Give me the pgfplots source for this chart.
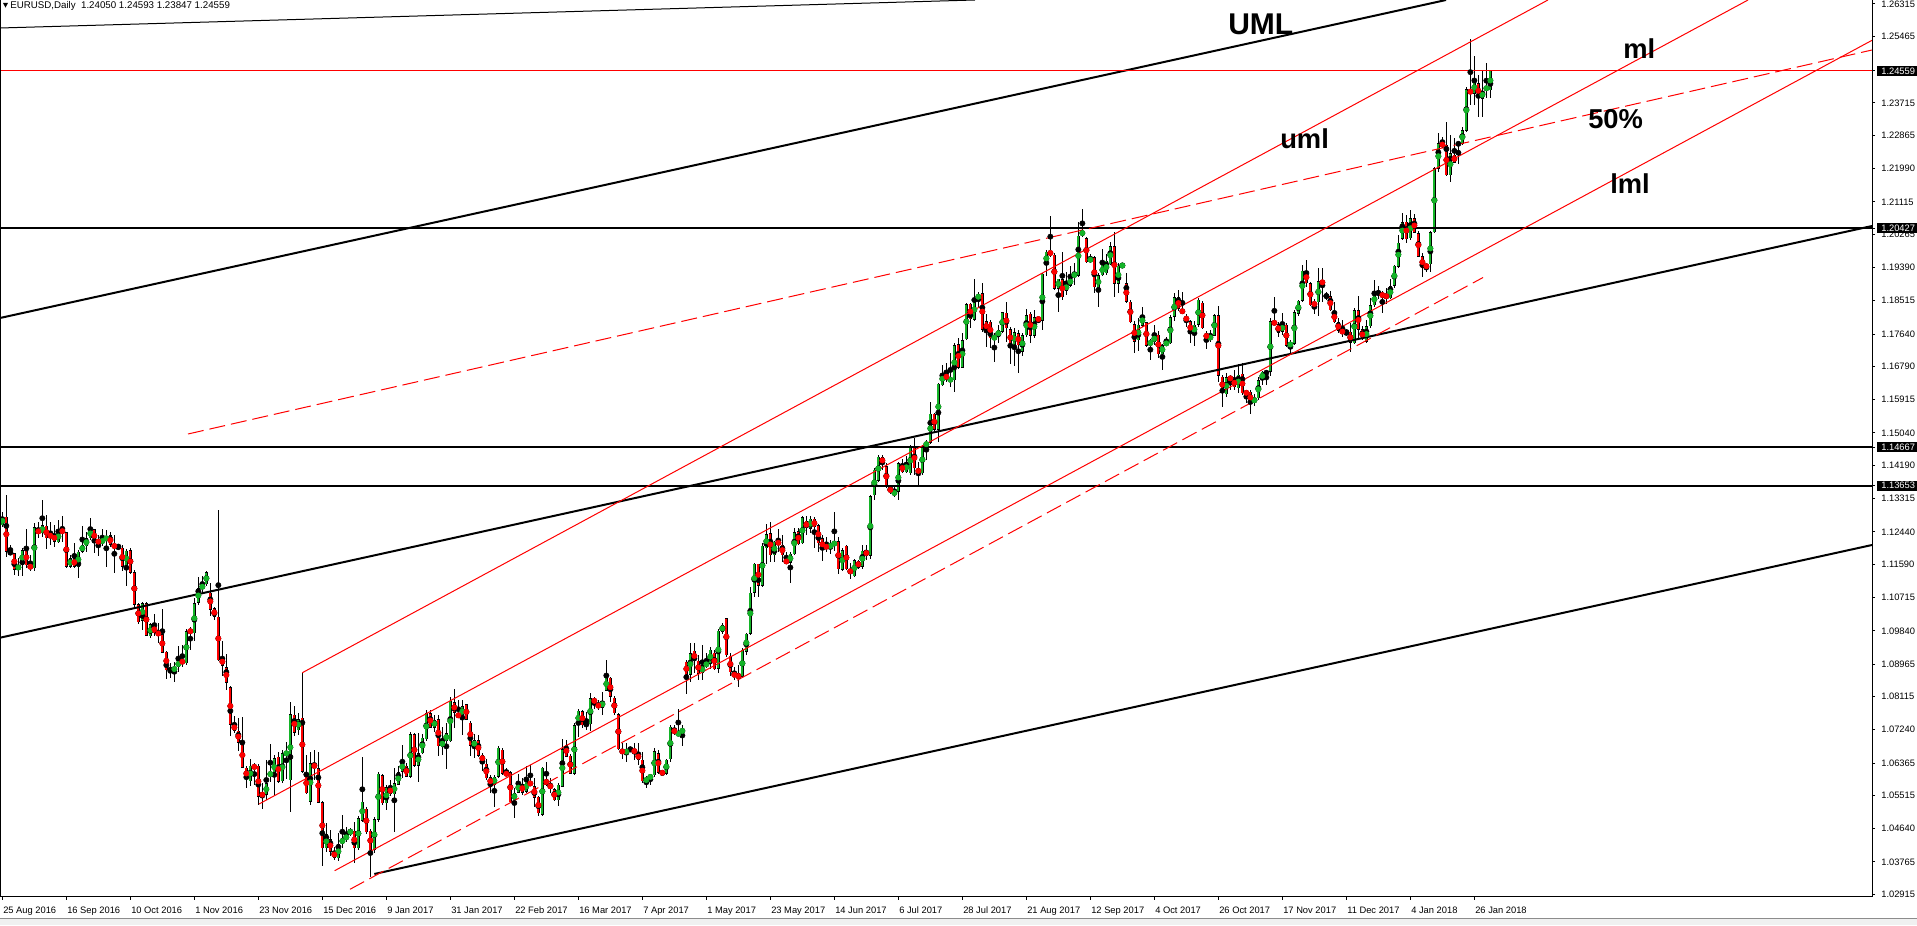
\documentclass[border=0pt]{standalone}
\usepackage{fontspec}
\setmainfont{Liberation Sans}
\usepackage{pgfplots}
\usepackage{pgfplotstable}
\pgfplotsset{compat=1.18}
\definecolor{bull}{RGB}{20,180,40}
\definecolor{bear}{RGB}{255,0,0}

% EURUSD daily candles, bar index i from 25 Aug 2016
\pgfplotstableread{
i o h l c
0 1.1262 1.1297 1.1258 1.1284
1 1.1284 1.1341 1.1179 1.1192
2 1.1190 1.1210 1.1183 1.1189
3 1.1188 1.1188 1.1131 1.1144
4 1.1144 1.1175 1.1127 1.1157
5 1.1157 1.1201 1.1127 1.1196
6 1.1198 1.1253 1.1148 1.1157
7 1.1157 1.1183 1.1140 1.1148
8 1.1148 1.1267 1.1140 1.1256
9 1.1253 1.1271 1.1227 1.1238
10 1.1240 1.1328 1.1232 1.1262
11 1.1260 1.1288 1.1198 1.1227
12 1.1236 1.1271 1.1210 1.1232
13 1.1239 1.1262 1.1205 1.1218
14 1.1217 1.1276 1.1214 1.1247
15 1.1249 1.1286 1.1218 1.1243
16 1.1243 1.1245 1.1148 1.1153
17 1.1153 1.1183 1.1148 1.1175
18 1.1175 1.1214 1.1148 1.1153
19 1.1151 1.1196 1.1124 1.1192
20 1.1192 1.1260 1.1188 1.1210
21 1.1207 1.1245 1.1192 1.1227
22 1.1227 1.1280 1.1223 1.1253
23 1.1251 1.1253 1.1189 1.1217
24 1.1220 1.1236 1.1181 1.1217
25 1.1216 1.1251 1.1207 1.1224
26 1.1221 1.1249 1.1153 1.1233
27 1.1235 1.1245 1.1205 1.1210
28 1.1211 1.1236 1.1137 1.1203
29 1.1205 1.1210 1.1201 1.1203
30 1.1203 1.1210 1.1140 1.1153
31 1.1153 1.1198 1.1102 1.1195
32 1.1196 1.1201 1.1133 1.1137
33 1.1138 1.1144 1.1047 1.1052
34 1.1054 1.1058 1.1002 1.1006
35 1.1011 1.1061 1.0986 1.1056
36 1.1056 1.1059 1.0970 1.0971
37 1.0970 1.1004 1.0964 1.1001
38 1.0998 1.1027 1.0971 1.0978
39 1.0979 1.1004 1.0953 1.0975
40 1.0975 1.1041 1.0925 1.0927
41 1.0929 1.0931 1.0857 1.0881
42 1.0883 1.0899 1.0859 1.0881
43 1.0879 1.0903 1.0850 1.0888
44 1.0888 1.0945 1.0877 1.0906
45 1.0909 1.0947 1.0888 1.0897
46 1.0899 1.0988 1.0894 1.0983
47 1.0988 1.0993 1.0934 1.0978
48 1.0978 1.1069 1.0958 1.1056
49 1.1058 1.1125 1.1051 1.1096
50 1.1094 1.1127 1.1087 1.1106
51 1.1106 1.1142 1.1103 1.1138
52 1.1084 1.1109 1.1024 1.1039
53 1.1043 1.1047 1.1013 1.1021
54 1.1021 1.1302 1.0906 1.0907
55 1.0914 1.0956 1.0866 1.0892
56 1.0888 1.0922 1.0829 1.0848
57 1.0836 1.0839 1.0708 1.0737
58 1.0738 1.0759 1.0715 1.0722
59 1.0722 1.0754 1.0667 1.0690
60 1.0691 1.0758 1.0623 1.0624
61 1.0624 1.0629 1.0570 1.0594
62 1.0588 1.0646 1.0576 1.0630
63 1.0629 1.0636 1.0579 1.0624
64 1.0629 1.0634 1.0526 1.0548
65 1.0555 1.0585 1.0517 1.0552
66 1.0553 1.0645 1.0539 1.0583
67 1.0603 1.0687 1.0588 1.0612
68 1.0603 1.0658 1.0553 1.0649
69 1.0653 1.0666 1.0585 1.0588
70 1.0589 1.0671 1.0585 1.0662
71 1.0659 1.0693 1.0594 1.0665
72 1.0591 1.0798 1.0507 1.0765
73 1.0763 1.0786 1.0708 1.0716
74 1.0723 1.0767 1.0710 1.0752
75 1.0756 1.0874 1.0611 1.0614
76 1.0611 1.0658 1.0555 1.0557
77 1.0535 1.0666 1.0526 1.0636
78 1.0633 1.0671 1.0592 1.0625
79 1.0623 1.0666 1.0531 1.0532
80 1.0533 1.0537 1.0367 1.0412
81 1.0412 1.0480 1.0402 1.0449
82 1.0436 1.0460 1.0392 1.0404
83 1.0404 1.0417 1.0382 1.0388
84 1.0386 1.0452 1.0380 1.0423
85 1.0424 1.0500 1.0412 1.0439
86 1.0434 1.0469 1.0430 1.0449
87 1.0452 1.0467 1.0445 1.0459
88 1.0458 1.0482 1.0373 1.0412
89 1.0412 1.0496 1.0408 1.0491
90 1.0485 1.0653 1.0482 1.0535
91 1.0516 1.0520 1.0449 1.0454
92 1.0458 1.0462 1.0338 1.0408
93 1.0408 1.0496 1.0399 1.0489
94 1.0487 1.0614 1.0482 1.0608
95 1.0605 1.0609 1.0526 1.0531
96 1.0531 1.0579 1.0513 1.0573
97 1.0574 1.0592 1.0551 1.0554
98 1.0554 1.0623 1.0454 1.0583
99 1.0580 1.0629 1.0578 1.0612
100 1.0614 1.0684 1.0596 1.0640
101 1.0630 1.0636 1.0599 1.0601
102 1.0601 1.0719 1.0596 1.0712
103 1.0712 1.0716 1.0627 1.0630
104 1.0630 1.0716 1.0588 1.0662
105 1.0662 1.0712 1.0660 1.0703
106 1.0699 1.0776 1.0694 1.0767
107 1.0767 1.0776 1.0728 1.0730
108 1.0730 1.0763 1.0719 1.0750
109 1.0752 1.0763 1.0656 1.0680
110 1.0678 1.0732 1.0658 1.0697
111 1.0694 1.0741 1.0620 1.0715
112 1.0694 1.0811 1.0693 1.0800
113 1.0796 1.0830 1.0730 1.0769
114 1.0767 1.0802 1.0754 1.0757
115 1.0758 1.0802 1.0710 1.0786
116 1.0791 1.0792 1.0750 1.0751
117 1.0743 1.0748 1.0656 1.0682
118 1.0678 1.0712 1.0649 1.0697
119 1.0697 1.0710 1.0653 1.0656
120 1.0658 1.0664 1.0616 1.0640
121 1.0634 1.0646 1.0592 1.0596
122 1.0599 1.0605 1.0557 1.0579
123 1.0579 1.0605 1.0522 1.0601
124 1.0601 1.0681 1.0598 1.0677
125 1.0672 1.0675 1.0605 1.0609
126 1.0612 1.0623 1.0603 1.0605
127 1.0612 1.0616 1.0531 1.0533
128 1.0539 1.0570 1.0493 1.0559
129 1.0559 1.0609 1.0557 1.0585
130 1.0582 1.0596 1.0553 1.0559
131 1.0561 1.0630 1.0557 1.0589
132 1.0589 1.0631 1.0577 1.0577
133 1.0576 1.0596 1.0520 1.0546
134 1.0548 1.0550 1.0497 1.0504
135 1.0500 1.0627 1.0498 1.0624
136 1.0595 1.0640 1.0577 1.0579
137 1.0583 1.0596 1.0559 1.0568
138 1.0567 1.0572 1.0538 1.0539
139 1.0539 1.0585 1.0524 1.0579
140 1.0574 1.0699 1.0573 1.0673
141 1.0684 1.0697 1.0652 1.0653
142 1.0656 1.0660 1.0607 1.0609
143 1.0608 1.0741 1.0605 1.0736
144 1.0736 1.0778 1.0706 1.0774
145 1.0773 1.0776 1.0728 1.0736
146 1.0739 1.0771 1.0723 1.0737
147 1.0739 1.0820 1.0721 1.0807
148 1.0807 1.0811 1.0778 1.0793
149 1.0793 1.0802 1.0776 1.0782
150 1.0782 1.0824 1.0763 1.0800
151 1.0827 1.0907 1.0826 1.0862
152 1.0861 1.0863 1.0798 1.0811
153 1.0808 1.0813 1.0763 1.0767
154 1.0765 1.0767 1.0671 1.0673
155 1.0672 1.0688 1.0646 1.0662
156 1.0662 1.0688 1.0640 1.0671
157 1.0673 1.0680 1.0666 1.0671
158 1.0672 1.0688 1.0645 1.0664
159 1.0662 1.0688 1.0631 1.0645
160 1.0645 1.0666 1.0585 1.0588
161 1.0588 1.0602 1.0570 1.0596
162 1.0595 1.0609 1.0579 1.0605
163 1.0605 1.0675 1.0599 1.0668
164 1.0662 1.0671 1.0609 1.0611
165 1.0614 1.0616 1.0605 1.0608
166 1.0609 1.0646 1.0605 1.0645
167 1.0646 1.0736 1.0638 1.0732
168 1.0729 1.0736 1.0710 1.0712
169 1.0710 1.0778 1.0708 1.0717
170 1.0717 1.0736 1.0682 1.0725
171 1.0903 1.0907 1.0818 1.0865
172 1.0868 1.0951 1.0850 1.0925
173 1.0931 1.0951 1.0872 1.0905
174 1.0905 1.0920 1.0855 1.0871
175 1.0872 1.0947 1.0856 1.0894
176 1.0892 1.0925 1.0885 1.0900
177 1.0898 1.0942 1.0885 1.0934
178 1.0927 1.0934 1.0881 1.0883
179 1.0885 1.0988 1.0872 1.0984
180 1.0982 1.1004 1.0977 1.0999
181 1.1017 1.1019 1.0916 1.0920
182 1.0919 1.0925 1.0864 1.0875
183 1.0871 1.0890 1.0855 1.0866
184 1.0868 1.0894 1.0837 1.0862
185 1.0864 1.0938 1.0859 1.0934
186 1.0929 1.0977 1.0920 1.0976
187 1.0976 1.1100 1.0973 1.1084
188 1.1084 1.1163 1.1074 1.1161
189 1.1160 1.1161 1.1074 1.1103
190 1.1103 1.1214 1.1100 1.1207
191 1.1201 1.1265 1.1161 1.1238
192 1.1240 1.1271 1.1166 1.1182
193 1.1182 1.1221 1.1166 1.1218
194 1.1220 1.1251 1.1192 1.1211
195 1.1210 1.1236 1.1166 1.1182
196 1.1170 1.1192 1.1161 1.1163
197 1.1163 1.1192 1.1109 1.1186
198 1.1186 1.1253 1.1183 1.1243
199 1.1246 1.1255 1.1210 1.1211
200 1.1214 1.1286 1.1211 1.1282
201 1.1273 1.1286 1.1236 1.1253
202 1.1253 1.1286 1.1240 1.1278
203 1.1278 1.1284 1.1203 1.1256
204 1.1262 1.1265 1.1192 1.1214
205 1.1227 1.1236 1.1168 1.1196
206 1.1207 1.1231 1.1192 1.1203
207 1.1203 1.1223 1.1186 1.1211
208 1.1207 1.1297 1.1194 1.1220
209 1.1220 1.1230 1.1133 1.1146
210 1.1144 1.1201 1.1140 1.1196
211 1.1207 1.1210 1.1144 1.1146
212 1.1146 1.1161 1.1119 1.1135
213 1.1128 1.1172 1.1126 1.1170
214 1.1168 1.1170 1.1146 1.1150
215 1.1153 1.1210 1.1146 1.1194
216 1.1196 1.1210 1.1170 1.1181
217 1.1181 1.1340 1.1172 1.1338
218 1.1341 1.1411 1.1328 1.1407
219 1.1379 1.1446 1.1376 1.1442
220 1.1440 1.1446 1.1407 1.1424
221 1.1417 1.1424 1.1359 1.1363
222 1.1361 1.1367 1.1345 1.1348
223 1.1341 1.1367 1.1335 1.1352
224 1.1350 1.1429 1.1328 1.1424
225 1.1423 1.1437 1.1398 1.1401
226 1.1401 1.1444 1.1398 1.1427
227 1.1398 1.1472 1.1394 1.1466
228 1.1466 1.1490 1.1394 1.1411
229 1.1411 1.1429 1.1367 1.1398
230 1.1398 1.1472 1.1394 1.1470
231 1.1470 1.1486 1.1434 1.1479
232 1.1478 1.1586 1.1475 1.1554
233 1.1554 1.1557 1.1507 1.1513
234 1.1513 1.1636 1.1479 1.1633
235 1.1630 1.1683 1.1627 1.1663
236 1.1661 1.1687 1.1639 1.1643
237 1.1639 1.1713 1.1626 1.1649
238 1.1643 1.1740 1.1613 1.1735
239 1.1737 1.1753 1.1671 1.1676
240 1.1676 1.1768 1.1674 1.1748
241 1.1750 1.1845 1.1748 1.1843
242 1.1843 1.1847 1.1779 1.1803
243 1.1801 1.1910 1.1797 1.1855
244 1.1855 1.1875 1.1836 1.1869
245 1.1871 1.1897 1.1770 1.1775
246 1.1797 1.1818 1.1729 1.1773
247 1.1797 1.1801 1.1727 1.1753
248 1.1750 1.1766 1.1691 1.1759
249 1.1757 1.1788 1.1740 1.1775
250 1.1770 1.1823 1.1766 1.1821
251 1.1820 1.1849 1.1744 1.1779
252 1.1777 1.1782 1.1685 1.1733
253 1.1735 1.1779 1.1680 1.1769
254 1.1766 1.1775 1.1663 1.1735
255 1.1718 1.1766 1.1706 1.1761
256 1.1761 1.1829 1.1757 1.1814
257 1.1817 1.1823 1.1740 1.1759
258 1.1759 1.1827 1.1753 1.1808
259 1.1808 1.1809 1.1792 1.1799
260 1.1799 1.1925 1.1775 1.1922
261 1.1945 1.1985 1.1917 1.1981
262 1.1980 1.2073 1.1967 1.1974
263 1.1972 1.1976 1.1880 1.1883
264 1.1883 1.1910 1.1823 1.1909
265 1.1908 1.1980 1.1854 1.1861
266 1.1878 1.1928 1.1867 1.1896
267 1.1891 1.1943 1.1887 1.1913
268 1.1917 1.1950 1.1893 1.1922
269 1.1917 1.2059 1.1913 1.2022
270 1.2023 1.2092 1.2018 1.2036
271 1.2016 1.2020 1.1950 1.1953
272 1.1953 1.1974 1.1950 1.1966
273 1.1966 1.1969 1.1873 1.1887
274 1.1883 1.1924 1.1836 1.1919
275 1.1919 1.1987 1.1917 1.1946
276 1.1924 1.1974 1.1919 1.1956
277 1.1948 1.2007 1.1946 1.1995
278 1.1995 1.2033 1.1861 1.1896
279 1.1896 1.1952 1.1871 1.1943
280 1.1940 1.1952 1.1937 1.1948
281 1.1897 1.1924 1.1847 1.1849
282 1.1849 1.1854 1.1792 1.1795
283 1.1790 1.1797 1.1715 1.1744
284 1.1748 1.1805 1.1720 1.1788
285 1.1786 1.1834 1.1783 1.1814
286 1.1795 1.1797 1.1731 1.1734
287 1.1735 1.1750 1.1696 1.1746
288 1.1742 1.1788 1.1735 1.1762
289 1.1762 1.1773 1.1700 1.1711
290 1.1711 1.1738 1.1670 1.1735
291 1.1737 1.1755 1.1735 1.1742
292 1.1740 1.1814 1.1738 1.1808
293 1.1810 1.1871 1.1797 1.1861
294 1.1861 1.1880 1.1825 1.1830
295 1.1830 1.1875 1.1817 1.1818
296 1.1812 1.1817 1.1783 1.1797
297 1.1798 1.1801 1.1740 1.1764
298 1.1764 1.1799 1.1734 1.1788
299 1.1788 1.1858 1.1783 1.1854
300 1.1847 1.1852 1.1776 1.1779
301 1.1768 1.1773 1.1724 1.1750
302 1.1750 1.1775 1.1744 1.1760
303 1.1760 1.1818 1.1758 1.1814
304 1.1813 1.1838 1.1639 1.1654
305 1.1652 1.1657 1.1573 1.1611
306 1.1606 1.1663 1.1598 1.1650
307 1.1650 1.1657 1.1617 1.1645
308 1.1648 1.1670 1.1617 1.1624
309 1.1621 1.1685 1.1608 1.1657
310 1.1659 1.1687 1.1604 1.1608
311 1.1613 1.1617 1.1582 1.1606
312 1.1613 1.1617 1.1554 1.1582
313 1.1585 1.1606 1.1575 1.1595
314 1.1595 1.1652 1.1592 1.1643
315 1.1643 1.1668 1.1630 1.1665
316 1.1663 1.1670 1.1630 1.1662
317 1.1665 1.1805 1.1655 1.1797
318 1.1797 1.1862 1.1788 1.1790
319 1.1790 1.1797 1.1757 1.1768
320 1.1770 1.1820 1.1761 1.1790
321 1.1788 1.1792 1.1729 1.1733
322 1.1733 1.1748 1.1713 1.1740
323 1.1738 1.1827 1.1735 1.1821
324 1.1817 1.1853 1.1811 1.1851
325 1.1851 1.1945 1.1849 1.1930
326 1.1930 1.1960 1.1889 1.1897
327 1.1897 1.1901 1.1838 1.1840
328 1.1847 1.1855 1.1816 1.1839
329 1.1847 1.1937 1.1811 1.1903
330 1.1903 1.1937 1.1847 1.1897
331 1.1865 1.1875 1.1853 1.1863
332 1.1864 1.1878 1.1825 1.1827
333 1.1823 1.1847 1.1792 1.1795
334 1.1795 1.1805 1.1768 1.1773
335 1.1772 1.1801 1.1757 1.1769
336 1.1768 1.1776 1.1763 1.1766
337 1.1770 1.1792 1.1718 1.1741
338 1.1740 1.1832 1.1738 1.1827
339 1.1827 1.1864 1.1748 1.1775
340 1.1776 1.1784 1.1748 1.1750
341 1.1744 1.1801 1.1740 1.1784
342 1.1784 1.1858 1.1779 1.1840
343 1.1840 1.1906 1.1836 1.1871
344 1.1871 1.1889 1.1855 1.1873
345 1.1873 1.1878 1.1819 1.1860
346 1.1869 1.1884 1.1843 1.1858
347 1.1858 1.1908 1.1855 1.1890
348 1.1891 1.1945 1.1886 1.1943
349 1.1941 1.2024 1.1937 1.2004
350 1.2014 1.2083 1.2011 1.2058
351 1.2059 1.2077 1.2002 1.2013
352 1.2016 1.2090 1.2011 1.2068
353 1.2068 1.2080 1.2029 1.2031
354 1.2029 1.2035 1.1966 1.1967
355 1.1969 1.1976 1.1915 1.1937
356 1.1948 1.1950 1.1928 1.1937
357 1.1947 1.2035 1.1928 1.2031
358 1.2031 1.2204 1.2029 1.2200
359 1.2198 1.2292 1.2191 1.2265
360 1.2265 1.2283 1.2254 1.2259
361 1.2261 1.2322 1.2179 1.2182
362 1.2182 1.2287 1.2163 1.2239
363 1.2235 1.2278 1.2213 1.2214
364 1.2263 1.2270 1.2211 1.2265
365 1.2263 1.2307 1.2261 1.2300
366 1.2298 1.2414 1.2296 1.2407
367 1.2407 1.2539 1.2366 1.2395
368 1.2395 1.2495 1.2366 1.2429
369 1.2423 1.2445 1.2335 1.2384
370 1.2382 1.2458 1.2335 1.2404
371 1.2404 1.2476 1.2384 1.2416
372 1.2405 1.2459 1.2385 1.2456
}\candles

\begin{document}
\begin{tikzpicture}
\useasboundingbox (0,0) rectangle (1437.75pt,693.75pt);
\fill[white] (0,0) rectangle (1437.75pt,693.75pt);
% tab strip at the bottom
\fill[black!6] (0,0) rectangle (1437.75pt,5.25pt);
\draw[black!45, line width=0.75pt] (0,5.25pt) -- (1437.75pt,5.25pt);

\begin{axis}[
  name=main,
  at={(0pt,21.225pt)}, anchor=south west,
  scale only axis, width=1404pt, height=672.525pt,
  xmin=-0.5825, xmax=467.42,
  ymin=1.02852, ymax=1.26420,
  axis line style={draw=none},
  tick align=outside, major tick length=2.25pt,
  tick style={black, line width=0.75pt},
  xtick pos=left, ytick pos=right, yticklabel pos=right,
  tick label style={font=\fontsize{7}{8}\selectfont},
  xtick={0,16,...,368},
  xticklabels={25 Aug 2016,16 Sep 2016,10 Oct 2016,1 Nov 2016,23 Nov 2016,15 Dec 2016,9 Jan 2017,31 Jan 2017,22 Feb 2017,16 Mar 2017,7 Apr 2017,1 May 2017,23 May 2017,14 Jun 2017,6 Jul 2017,28 Jul 2017,21 Aug 2017,12 Sep 2017,4 Oct 2017,26 Oct 2017,17 Nov 2017,11 Dec 2017,4 Jan 2018,26 Jan 2018},
  xticklabel style={anchor=base west, inner sep=0pt, xshift=0.5pt, yshift=-10pt},
  ytick={1.02915,1.03765,1.04640,1.05515,1.06365,1.07240,1.08115,1.08965,1.09840,1.10715,1.11590,1.12440,1.13315,1.14190,1.15040,1.15915,1.16790,1.17640,1.18515,1.19390,1.20265,1.21115,1.21990,1.22865,1.23715,1.25465,1.26315},
  yticklabels={1.02915,1.03765,1.04640,1.05515,1.06365,1.07240,1.08115,1.08965,1.09840,1.10715,1.11590,1.12440,1.13315,1.14190,1.15040,1.15915,1.16790,1.17640,1.18515,1.19390,1.20265,1.21115,1.21990,1.22865,1.23715,1.25465,1.26315},
  yticklabel style={anchor=west, inner sep=0pt, xshift=4.5pt},
  extra y ticks={1.13653,1.14667,1.20427,1.24559},
  extra y tick labels={1.13653,1.14667,1.20427,1.24559},
  extra y tick style={yticklabel style={fill=black, text=white, inner xsep=3pt, inner ysep=1.3pt, xshift=-3pt}},
]

% wicks
\addplot[black, only marks, mark=none, forget plot,
  error bars/.cd, y dir=both, y explicit, error mark=none,
  error bar style={black, line width=0.75pt}]
  table[x=i, y expr={(\thisrow{h}+\thisrow{l})/2}, y error expr={(\thisrow{h}-\thisrow{l})/2}] {\candles};
% body outlines
\addplot[black, only marks, mark=none, forget plot,
  error bars/.cd, y dir=both, y explicit, error mark=none,
  error bar style={black, line width=2.4pt}]
  table[x=i, y expr={(\thisrow{o}+\thisrow{c})/2}, y error expr={max(abs(\thisrow{c}-\thisrow{o})/2,0.00014)}] {\candles};
% bull fill
\addplot[bull, only marks, mark=none, forget plot,
  restrict expr to domain={\thisrow{c}-\thisrow{o}}{0.0003:1},
  error bars/.cd, y dir=both, y explicit, error mark=none,
  error bar style={bull, line width=1.5pt}]
  table[x=i, y expr={(\thisrow{o}+\thisrow{c})/2}, y error expr={(\thisrow{c}-\thisrow{o})/2-0.00013}] {\candles};
% bear fill
\addplot[bear, only marks, mark=none, forget plot,
  restrict expr to domain={\thisrow{o}-\thisrow{c}}{0.0003:1},
  error bars/.cd, y dir=both, y explicit, error mark=none,
  error bar style={bear, line width=1.5pt}]
  table[x=i, y expr={(\thisrow{o}+\thisrow{c})/2}, y error expr={(\thisrow{o}-\thisrow{c})/2-0.00013}] {\candles};

% black lines
\addplot[black, line width=0.75pt] coordinates {(-0.58,1.25684) (243.17,1.26420)};
\addplot[black, line width=1.5pt] coordinates {(-0.58,1.18062) (360.92,1.26420)};
\addplot[black, line width=1.5pt] coordinates {(-0.58,1.09659) (467.42,1.20480)};
\addplot[black, line width=1.5pt] coordinates {(93.0,1.03449) (467.42,1.12096)};
\addplot[black, line width=1.5pt] coordinates {(-0.58,1.20427) (467.42,1.20427)};
\addplot[black, line width=1.5pt] coordinates {(-0.58,1.14667) (467.42,1.14667)};
\addplot[black, line width=1.5pt] coordinates {(-0.58,1.13653) (467.42,1.13653)};

% red pitchfork and bid line
\addplot[bear, line width=0.75pt] coordinates {(75.0,1.08739) (386.4,1.26420)};
\addplot[bear, line width=0.75pt] coordinates {(64.17,1.05288) (436.42,1.26420)};
\addplot[bear, line width=0.75pt] coordinates {(83.07,1.03535) (467.42,1.25361)};
\addplot[bear, line width=0.75pt, dash pattern=on 12pt off 4.5pt] coordinates {(86.92,1.03047) (370.17,1.19126)};
\addplot[bear, line width=0.75pt, dash pattern=on 12pt off 4.5pt] coordinates {(46.42,1.15013) (467.42,1.25106)};
\addplot[bear, line width=0.75pt] coordinates {(-0.58,1.24559) (467.42,1.24559)};
\end{axis}

\draw[black, line width=0.75pt] (main.north west) -- (main.south west) -- (main.south east) -- (main.north east);

% header
\fill[black] (2.25pt,691.5pt) -- (6pt,691.5pt) -- (4.125pt,688.1pt) -- cycle;
\node[anchor=base west, inner sep=0pt, font=\fontsize{7.3}{8}\selectfont] at (7.5pt,687.5pt) {EURUSD,Daily\ \ 1.24050 1.24593 1.23847 1.24559};

% line names
\begin{scope}[every node/.style={anchor=base west, inner sep=0pt, font=\fontsize{20.5}{24}\selectfont\bfseries}]
\node[font=\fontsize{22.5}{26}\selectfont\bfseries] at (921pt,667.5pt) {UML};
\node at (960pt,582pt) {uml};
\node at (1217.25pt,649.5pt) {ml};
\node at (1191pt,597pt) {50\%};
\node at (1207.5pt,548.25pt) {lml};
\end{scope}
\end{tikzpicture}
\end{document}
